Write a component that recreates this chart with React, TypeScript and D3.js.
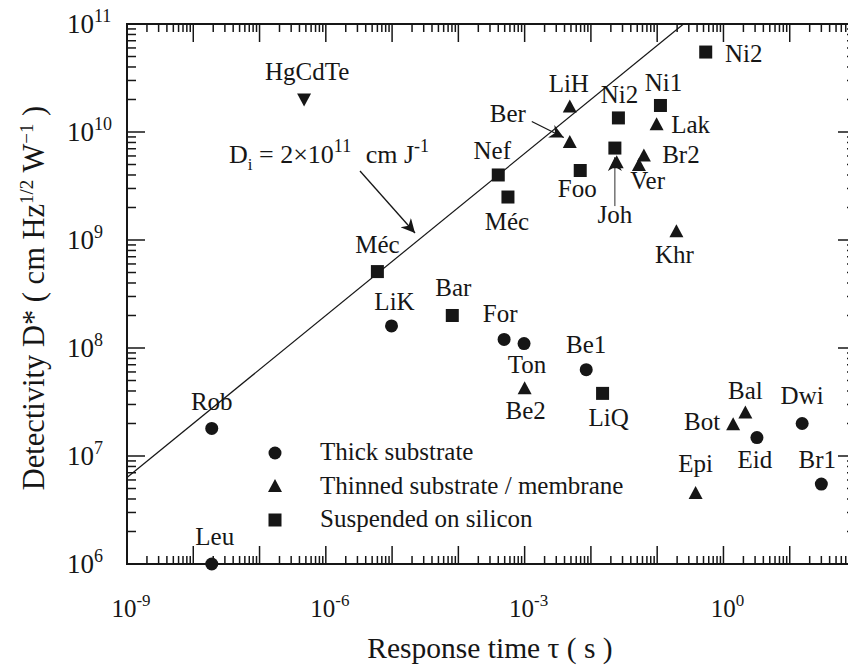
import { useEffect, useRef } from "react";
import * as d3 from "d3";

// detector names, response time (s), detectivity (cm Hz^1/2 W^-1), substrate kind
const names = [
  "HgCdTe", "Rob", "Leu", "Méc", "LiK", "Bar", "For", "Ton", "Be2", "Be1", "LiQ",
  "Nef", "Méc", "LiH", "Ber", "Ni2", "Joh", "Foo", "Ver", "Br2", "", "Ni1", "Lak",
  "Ni2", "Khr", "Bal", "Bot", "Eid", "Dwi", "Br1", "Epi",
];
const tau = [
  4.7e-7, 1.9e-8, 1.9e-8, 6e-6, 9.8e-6, 8.1e-5, 4.9e-4, 9.8e-4, 1e-3, 8.5e-3, 0.015,
  4e-4, 5.6e-4, 4.8e-3, 4.8e-3, 0.026, 0.023, 6.9e-3, 0.0245, 0.063, 0.053, 0.112, 0.098,
  0.54, 0.195, 2.14, 1.4, 3.2, 15.4, 30, 0.38,
];
const detectivity = [
  2.0e10, 1.8e7, 1e6, 5.1e8, 1.6e8, 2.0e8, 1.2e8, 1.1e8, 4.2e7, 6.3e7, 3.8e7,
  4e9, 2.5e9, 1.7e10, 8e9, 1.35e10, 7.1e9, 4.4e9, 5.2e9, 6.0e9, 4.9e9, 1.76e10, 1.17e10,
  5.5e10, 1.19e9, 2.5e7, 1.95e7, 1.48e7, 2.0e7, 5.5e6, 4.5e6,
];
const kind = [
  "ref", "thick", "thick", "susp", "thick", "susp", "thick", "thick", "thin", "thick", "susp",
  "susp", "susp", "thin", "thin", "susp", "susp", "susp", "thin", "thin", "thin", "susp", "thin",
  "susp", "thin", "thin", "thin", "thick", "thick", "thick", "thin",
];

// label placement relative to marker (px)
const labelDx = [3, 0, 3, 0, 3, 1, -4, 3, 1, 0, 6, -6, -1, -1, -62, 1, 0, -3, 31, 37, 0, 3, 34, 38, -2, 0, -31, -2, 0, -4, 0];
const labelDy = [-19, -18, -19, -19, -16, -19, -17, 29, 30, -17, 33, -16, 33, -15, -20, -15, 75, 26, 26, 7, 0, -14, 8, 10, 31, -14, 5, 30, -19, -16, -21];

const legendKinds = ["thick", "thin", "susp"];
const legendLabels = ["Thick substrate", "Thinned substrate / membrane", "Suspended on silicon"];

const Di = 2e11; // cm J^-1, D* = Di * sqrt(tau)
const lineTau = [1e-9, 0.25];

const xTickExp = [-9, -6, -3, 0];
const yTickExp = [6, 7, 8, 9, 10, 11];

const FONT = "'Liberation Serif', 'Times New Roman', serif";
const INK = "#161616";

export default function App() {
  const svgRef = useRef<SVGSVGElement>(null);

  useEffect(() => {
    document.body.style.margin = "0";
    if (!svgRef.current) return;
    const svg = d3.select(svgRef.current);
    svg.selectAll("*").remove();

    const left = 127, right = 856, top = 24, bottom = 564;
    const x = d3.scaleLog().domain([1e-9, 1e2]).range([left, right]);
    const y = d3.scaleLog().domain([1e6, 1e11]).range([bottom, top]);

    const defs = svg.append("defs");
    defs
      .append("marker")
      .attr("id", "arrBig")
      .attr("viewBox", "0 0 10 10")
      .attr("refX", 10)
      .attr("refY", 5)
      .attr("markerWidth", 16)
      .attr("markerHeight", 14)
      .attr("markerUnits", "userSpaceOnUse")
      .attr("orient", "auto")
      .append("path")
      .attr("d", "M0,0 L10,5 L0,10 L3,5 Z")
      .attr("fill", INK);

    // frame
    svg
      .append("rect")
      .attr("x", left)
      .attr("y", top)
      .attr("width", right - left)
      .attr("height", bottom - top)
      .attr("fill", "none")
      .attr("stroke", INK)
      .attr("stroke-width", 2);

    // ticks (inward on all sides)
    const ticks = svg.append("g").attr("stroke", INK).attr("stroke-width", 1.5);
    for (let e = -9; e <= 2; e++) {
      for (let m = 1; m <= 9; m++) {
        const v = m * Math.pow(10, e);
        const len = m === 1 ? 18 : 8;
        const px = x(v);
        ticks.append("line").attr("x1", px).attr("x2", px).attr("y1", bottom).attr("y2", bottom - len);
        ticks.append("line").attr("x1", px).attr("x2", px).attr("y1", top).attr("y2", top + len);
        if (e === 2) break;
      }
    }
    for (let e = 6; e <= 11; e++) {
      for (let m = 1; m <= 9; m++) {
        const v = m * Math.pow(10, e);
        const py = y(v);
        const len = m === 1 ? 18 : 9;
        ticks.append("line").attr("x1", left).attr("x2", left + len).attr("y1", py).attr("y2", py);
        ticks.append("line").attr("x1", right).attr("x2", right - len).attr("y1", py).attr("y2", py);
        if (e === 11) break;
      }
    }

    const text = svg.append("g").attr("font-family", FONT).attr("fill", INK);

    // y tick labels
    yTickExp.forEach((e) => {
      const t = text
        .append("text")
        .attr("x", 67)
        .attr("y", y(Math.pow(10, e)) + 9)
        .attr("font-size", 27);
      t.append("tspan").text("10");
      t.append("tspan").attr("dy", -11).attr("font-size", 18).text(String(e));
    });

    // x tick labels
    xTickExp.forEach((e) => {
      const t = text
        .append("text")
        .attr("x", x(Math.pow(10, e)) + 4)
        .attr("y", 617)
        .attr("text-anchor", "middle")
        .attr("font-size", 25);
      t.append("tspan").text("10");
      t.append("tspan").attr("dy", -11).attr("font-size", 17).text(String(e));
    });

    // axis titles
    text
      .append("text")
      .attr("x", 490)
      .attr("y", 658)
      .attr("text-anchor", "middle")
      .attr("font-size", 29.5)
      .text("Response time τ ( s )");

    const yt = text
      .append("text")
      .attr("transform", "translate(44,298) rotate(-90)")
      .attr("text-anchor", "middle")
      .attr("font-size", 30.5);
    yt.append("tspan").text("Detectivity D* ( cm Hz");
    yt.append("tspan").attr("dy", -11).attr("font-size", 19).text("1/2");
    yt.append("tspan").attr("dy", 11).text(" W");
    yt.append("tspan").attr("dy", -11).attr("font-size", 19).text("−1");
    yt.append("tspan").attr("dy", 11).text(" )");

    // Di line
    const line = d3
      .line<number>()
      .x((t) => x(t))
      .y((t) => y(Di * Math.sqrt(t)));
    svg
      .append("path")
      .attr("d", line(lineTau))
      .attr("fill", "none")
      .attr("stroke", INK)
      .attr("stroke-width", 1.2);

    // Di annotation
    const ann = text.append("text").attr("x", 229).attr("y", 163).attr("font-size", 26);
    ann.append("tspan").text("D");
    ann.append("tspan").attr("dy", 7).attr("font-size", 17).text("i");
    ann.append("tspan").attr("dy", -7).text(" = 2×10");
    ann.append("tspan").attr("dy", -11).attr("font-size", 18).text("11");
    ann.append("tspan").attr("dy", 11).attr("dx", 8).text(" cm J");
    ann.append("tspan").attr("dy", -11).attr("font-size", 18).text("-1");

    const arrows = svg.append("g").attr("stroke", INK).attr("fill", "none");
    arrows
      .append("line")
      .attr("x1", 360).attr("y1", 171).attr("x2", 415).attr("y2", 233)
      .attr("stroke-width", 1.3)
      .attr("marker-end", "url(#arrBig)");
    // Ber
    arrows
      .append("line")
      .attr("x1", x(tau[14]) - 38).attr("y1", y(detectivity[14]) - 21)
      .attr("x2", x(tau[14]) - 6).attr("y2", y(detectivity[14]) - 5)
      .attr("stroke-width", 1.3)
      .attr("marker-end", "url(#arrBig)");
    // Joh
    arrows
      .append("line")
      .attr("x1", x(tau[16])).attr("y1", y(detectivity[16]) + 58)
      .attr("x2", x(tau[16])).attr("y2", y(detectivity[16]) + 9)
      .attr("stroke-width", 0.9)
      .attr("marker-end", "url(#arrBig)");

    // markers
    const marker = (g: d3.Selection<SVGGElement, unknown, null, undefined>, k: string, cx: number, cy: number) => {
      if (k === "thick") {
        g.append("circle").attr("cx", cx).attr("cy", cy).attr("r", 6.5).attr("fill", INK);
      } else if (k === "susp") {
        g.append("rect").attr("x", cx - 6.5).attr("y", cy - 6.5).attr("width", 13).attr("height", 13).attr("fill", INK);
      } else if (k === "thin") {
        g.append("path")
          .attr("d", `M${cx},${cy - 7.5} L${cx + 7},${cy + 5.5} L${cx - 7},${cy + 5.5} Z`)
          .attr("fill", INK);
      } else {
        g.append("path")
          .attr("d", `M${cx},${cy + 7} L${cx + 7},${cy - 6} L${cx - 7},${cy - 6} Z`)
          .attr("fill", INK);
      }
    };

    const pts = svg.append("g");
    names.forEach((n, i) => {
      const cx = x(tau[i]);
      const cy = y(detectivity[i]);
      marker(pts, kind[i], cx, cy);
      if (n) {
        text
          .append("text")
          .attr("x", cx + labelDx[i])
          .attr("y", cy + labelDy[i])
          .attr("text-anchor", "middle")
          .attr("font-size", 25)
          .text(n);
      }
    });

    // legend
    legendKinds.forEach((k, i) => {
      const ly = 453 + i * 33.5;
      marker(pts, k, 275, ly);
      text
        .append("text")
        .attr("x", 320)
        .attr("y", ly + 7)
        .attr("font-size", 25)
        .text(legendLabels[i]);
    });
  }, []);

  return (
    <svg
      ref={svgRef}
      width={848}
      height={668}
      style={{ display: "block", background: "#fff" }}
    />
  );
}
